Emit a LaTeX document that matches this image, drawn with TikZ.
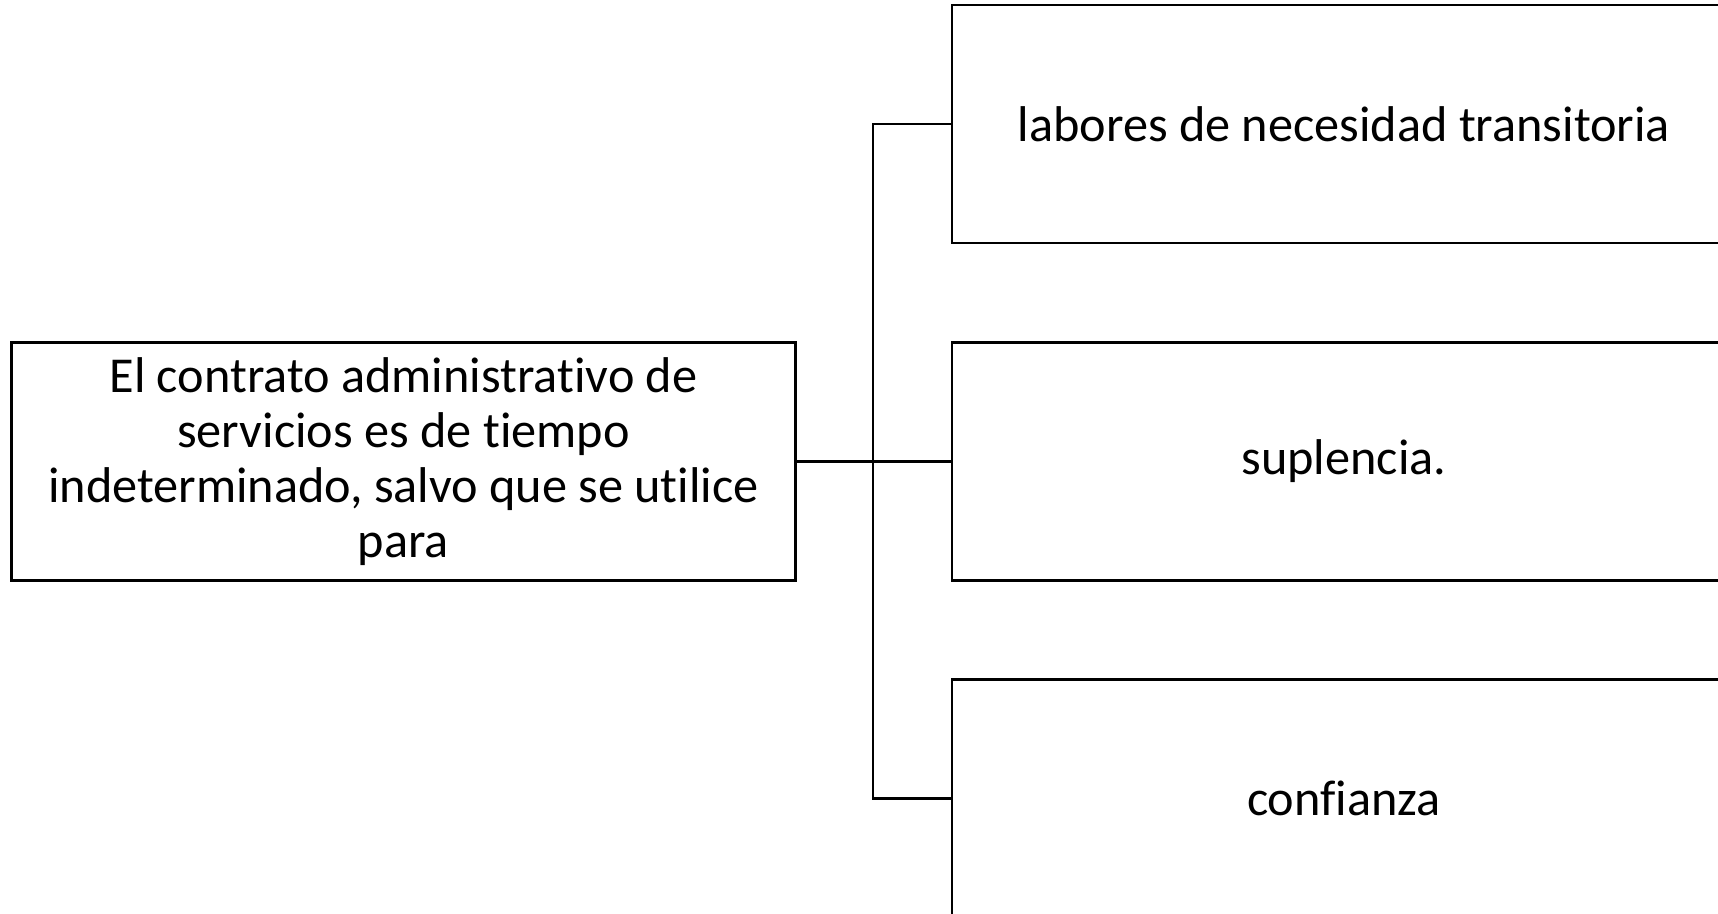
\documentclass[tikz,border=0pt]{standalone}
\usepackage{fontspec}
\setmainfont{Carlito}[Ligatures={NoCommon}]
\begin{document}
\begin{tikzpicture}[x=0.1mm,y=-0.1mm,
  box/.style={draw=black, line width=0.22mm, fill=white, minimum width=78.4mm, minimum height=23.8mm, inner sep=0pt, align=center, font=\fontsize{14.3}{15.6}\selectfont},
  conn/.style={draw=black, line width=0.22mm}]
\useasboundingbox (0,0) rectangle (1718,913);
\clip (0,0) rectangle (1718,913);
\fill[white] (0,0) rectangle (1718,913);
\node[box] (root) at (403.5,461.5) {El contrato administrativo de\\servicios es de tiempo\\indeterminado, salvo que se utilice\\para};
\node[box] (a) at (1344,124) {labores de necesidad transitoria};
\node[box] (b) at (1344,461.5) {suplencia.};
\node[box] (c) at (1344,798.5) {confianza};
\coordinate (j) at (873,461.5);
\draw[conn] (root.east) -- (b.west);
\draw[conn] (a.west) -| (j) |- (c.west);
\end{tikzpicture}
\end{document}
